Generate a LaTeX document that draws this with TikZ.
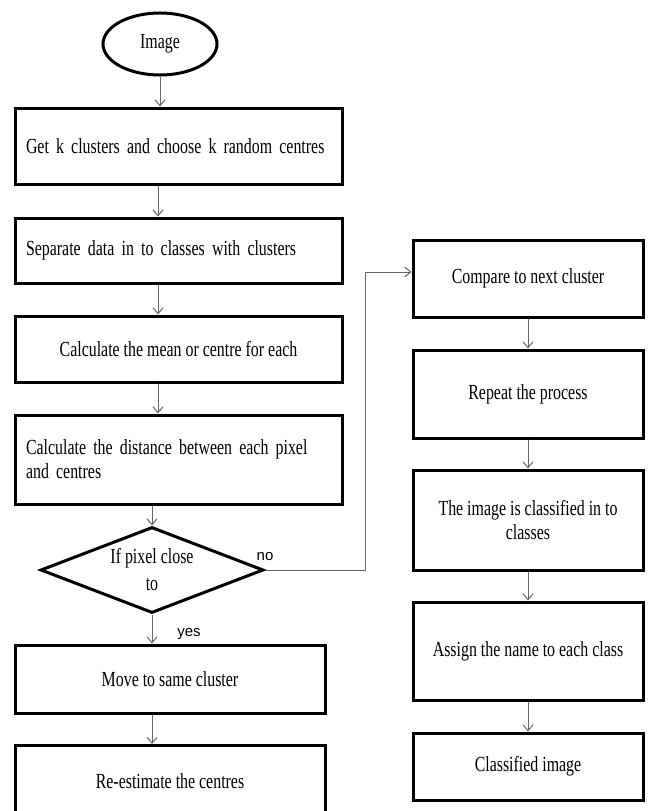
\documentclass[tikz,border=0pt]{standalone}
\usepackage{fontspec}
\setmainfont{Liberation Serif}[FakeStretch=0.74]
\newfontfamily\tagfont{Liberation Sans}
\usetikzlibrary{arrows.meta,shapes.geometric}

\begin{document}
\begin{tikzpicture}[
  x=1pt,y=-1pt,
  font=\fontsize{21.5}{24}\selectfont,
  block/.style={draw,line width=3pt,minimum width=327pt,align=center,inner sep=0pt},
  blockleft/.style={block,text width=305pt,align=left,inner xsep=11pt},
  sideblock/.style={block,minimum width=230pt},
  term/.style={draw,ellipse,line width=3pt,minimum width=114pt,minimum height=62pt,inner sep=0pt},
  decision/.style={draw,diamond,aspect=2.6,line width=3pt,minimum width=223pt,minimum height=86pt,inner sep=0pt,align=center,font=\fontsize{21.5}{27}\selectfont},
  flow/.style={draw=black!60,line width=1pt,-{Straight Barb[length=6pt,width=10pt]}},
  tag/.style={font=\tagfont\fontsize{15}{18}\selectfont}
]
  \useasboundingbox (0,0) rectangle (648,811);

  % left column
  \node[term] (img) at (160,44) {Image};
  \node[blockleft,minimum height=76pt] (get) at (178.5,146) {Get k clusters and choose k random centres};
  \node[blockleft,minimum height=65pt] (sep) at (178.5,250.5) {Separate data in to classes with clusters};
  \node[block,minimum height=66pt] (mean) at (178.5,349) {Calculate the mean or centre for each};
  \node[blockleft,minimum height=89pt] (dist) at (178.5,459.5) {Calculate the distance between each pixel\\and centres};
  \node[decision] (close) at (152,570) {If pixel close\\to};
  \node[block,minimum width=310pt,minimum height=68pt] (move) at (170,679) {Move to same cluster};
  \node[block,minimum width=310pt,minimum height=71pt] (reest) at (170,781) {Re-estimate the centres};

  % right column
  \node[sideblock,minimum height=77pt] (cmp) at (528,278.5) {Compare to next cluster};
  \node[sideblock,minimum height=88pt] (rep) at (528,394) {Repeat the process};
  \node[sideblock,minimum height=100pt] (cls) at (528,520) {The image is classified in to\\classes};
  \node[sideblock,minimum height=98pt] (asg) at (528,651) {Assign the name to each class};
  \node[sideblock,minimum height=67pt] (fin) at (528,766.5) {Classified image};

  \node[tag] (nolab) at (265,557) {no};
  \node[tag] (yeslab) at (189,634) {yes};

  \coordinate (spine) at (158,0);
  \coordinate (turn) at (365,272);

  \draw[flow] (img.south) -- (img.south |- get.north);
  \draw[flow] (get.south -| spine) -- (sep.north -| spine);
  \draw[flow] (sep.south -| spine) -- (mean.north -| spine);
  \draw[flow] (mean.south -| spine) -- (dist.north -| spine);
  \draw[flow] (dist.south -| close.north) -- (close.north);
  \draw[flow] (close.south) -- (move.north -| close.south);
  \draw[flow] (move.south -| close.south) -- (reest.north -| close.south);

  \draw[flow] (close.east) -| (turn) -- (cmp.west |- turn);
  \draw[flow] (cmp) -- (rep);
  \draw[flow] (rep) -- (cls);
  \draw[flow] (cls) -- (asg);
  \draw[flow] (asg) -- (fin);
\end{tikzpicture}
\end{document}
